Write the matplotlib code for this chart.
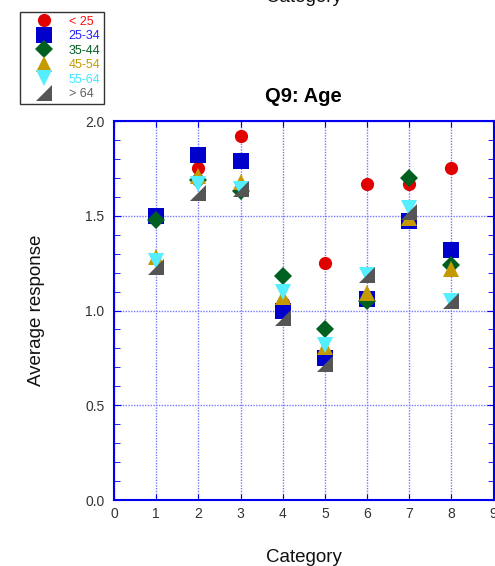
import numpy as np
import matplotlib.pyplot as plt
from matplotlib.path import Path
from matplotlib.ticker import MultipleLocator

plt.rcParams['font.family'] = ['Liberation Sans', 'DejaVu Sans']

# average response per category, one list per age group
categories = [1, 2, 3, 4, 5, 6, 7, 8]
age_groups = ['< 25', '25-34', '35-44', '45-54', '55-64', '> 64']
under_25 = [1.50, 1.75, 1.92, 1.04, 1.25, 1.67, 1.67, 1.75]
age_25_34 = [1.50, 1.82, 1.79, 1.00, 0.75, 1.06, 1.47, 1.32]
age_35_44 = [1.48, 1.69, 1.63, 1.18, 0.90, 1.05, 1.70, 1.24]
age_45_54 = [1.28, 1.71, 1.68, 1.07, 0.81, 1.09, 1.49, 1.22]
age_55_64 = [1.26, 1.67, 1.64, 1.10, 0.82, 1.19, 1.54, 1.05]
over_64 = [1.23, 1.62, 1.64, 0.96, 0.72, 1.19, 1.52, 1.05]

series = [under_25, age_25_34, age_35_44, age_45_54, age_55_64, over_64]

# right-angled triangle, corner at lower right
corner_tri = Path([(-1, -1), (1, -1), (1, 1), (-1, -1)],
                  [Path.MOVETO, Path.LINETO, Path.LINETO, Path.CLOSEPOLY])

styles = [
    dict(marker='o', ms=9.5, color='#e00000', text='#ff1010'),
    dict(marker='s', ms=12, color='#0000cc', text='#2020ff'),
    dict(marker='D', ms=9, color='#006020', text='#006020'),
    dict(marker='^', ms=12, color='#c49a00', text='#c49a00'),
    dict(marker='v', ms=12, color='#55eeff', text='#40e8ff'),
    dict(marker=corner_tri, ms=12, color='#555555', text='#606060'),
]

fig = plt.figure(figsize=(4.95, 5.66), dpi=100)
ax = fig.add_axes([0.2303, 0.1166, 0.7667, 0.6696])

handles = []
for values, label, st in zip(series, age_groups, styles):
    line, = ax.plot(categories, values, linestyle='none', marker=st['marker'],
                    markersize=st['ms'], color=st['color'], markeredgewidth=0,
                    label=label)
    handles.append(line)

ax.set_xlim(0, 9)
ax.set_ylim(0, 2.0)
ax.xaxis.set_major_locator(MultipleLocator(1))
ax.yaxis.set_major_locator(MultipleLocator(0.5))
ax.yaxis.set_minor_locator(MultipleLocator(0.1))
ax.yaxis.set_major_formatter(lambda v, pos: f'{v:.1f}')

ax.grid(True, which='major', color='#7878ff', linestyle=(0, (1, 1)), linewidth=1.0)
ax.set_axisbelow(True)

for side in ax.spines.values():
    side.set_color('#0000ee')
    side.set_linewidth(1.5)

ax.tick_params(which='both', direction='in', top=True, right=True,
               color='#0000ee', labelcolor='#333333', labelsize=10)
ax.tick_params(axis='y', which='major', length=5, pad=7)
ax.tick_params(axis='y', which='minor', length=4)
ax.tick_params(axis='x', which='major', length=4, pad=5)

ax.set_xlabel('Category', fontsize=13.5, labelpad=20, color='#111111')
ax.set_ylabel('Average response', fontsize=13.5, labelpad=29, color='#111111')
ax.set_title('Q9: Age', fontsize=14.5, fontweight='bold', pad=14)

# axis label of the panel above, only its lower part is on the canvas
fig.text(0.6145, 1 - 1.5 / 566, 'Category', fontsize=13.5, ha='center',
         va='baseline', color='#111111')

leg = fig.legend(handles=handles, loc='upper left',
                 bbox_to_anchor=(20 / 495, 1 - 12 / 566),
                 bbox_transform=fig.transFigure,
                 fontsize=9, handlelength=3.2, handletextpad=0.4,
                 labelspacing=0.2, borderpad=0.3, borderaxespad=0,
                 fancybox=False, frameon=True)
leg.get_frame().set_edgecolor('black')
leg.get_frame().set_linewidth(1.0)
for txt, st in zip(leg.get_texts(), styles):
    txt.set_color(st['text'])

fig.savefig('out.png', dpi=100)
